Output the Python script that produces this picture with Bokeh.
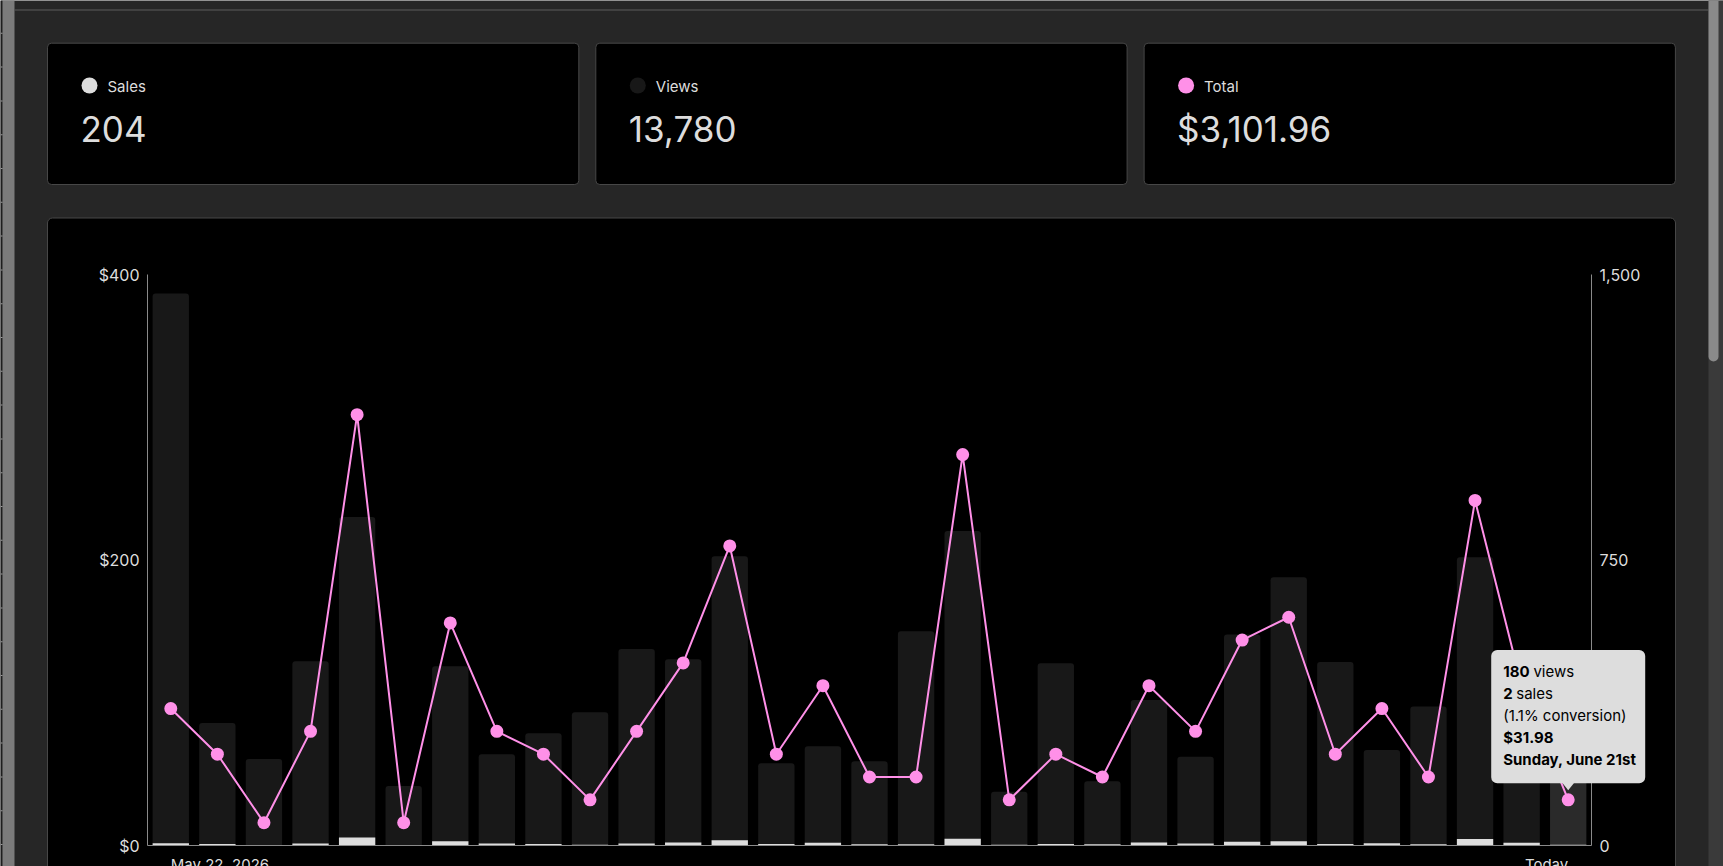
import pandas as pd
from bokeh.plotting import figure
from bokeh.models import (Range1d, LinearAxis, FixedTicker, NumeralTickFormatter,
                          BoxAnnotation, PolyAnnotation, Label, ColumnDataSource)
from bokeh.embed import file_html
from bokeh.resources import INLINE

# ---- daily analytics, May 22 - June 21, 2026 ----
dates = pd.date_range("2026-05-22", "2026-06-21", freq="D")
views = [1450, 322, 227, 484, 863, 156, 471, 240, 295, 350, 516, 489, 760, 216, 261,
         221, 563, 826, 141, 479, 169, 382, 233, 554, 705, 482, 251, 365, 757, 372, 180]
sales = [6, 4, 1, 5, 21, 1, 11, 5, 4, 2, 5, 8, 14, 4, 7, 3, 3, 18, 2, 4, 3, 8, 5, 10,
         11, 4, 6, 3, 17, 7, 2]
revenue = [95.94, 63.96, 15.99, 79.95, 301.82, 15.99, 155.91, 79.95, 63.96, 31.98,
           79.95, 127.92, 209.87, 63.96, 111.93, 47.97, 47.97, 273.82, 31.98, 63.96,
           47.97, 111.93, 79.95, 143.91, 159.90, 63.96, 95.94, 47.97, 241.74, 111.93, 31.98]
x_labels = ["May 22, 2026", "Today"]
revenue_ticks = [0, 200, 400]
views_ticks = [0, 750, 1500]
hover_index = 30

# ---- colours ----
PAGE_BG = "#262626"
PANEL_BG = "#000000"
EDGE = "#474747"
TEXT = "#dddddd"
AXIS = "#8a8a8a"
VIEWS_C = "#181818"
VIEWS_HOVER_C = "#2a2a2a"
SALES_C = "#dddddd"
TOTAL_C = "#ff90e8"
FONT = "Inter"

# ---- page geometry (canvas pixels, top-left origin) ----
W, H = 1723, 866
PLOT_L, PLOT_R, PLOT_T, PLOT_B = 147, 1591, 274, 845
REV_MAX, VIEWS_MAX = 400, 1500

n = len(views)
band = (PLOT_R - PLOT_L) / n
px_per_dollar = (PLOT_B - PLOT_T) / REV_MAX
views_per_dollar = VIEWS_MAX / REV_MAX

xs = list(range(n))
bar_colors = [VIEWS_HOVER_C if i == hover_index else VIEWS_C for i in xs]
src = ColumnDataSource(dict(x=xs, views=views, sales=sales, revenue=revenue,
                            color=bar_colors))

# the frame spans the whole page; the axes sit at fixed positions inside it
x_rng = Range1d(-0.5 - PLOT_L / band, n - 0.5 + (W - PLOT_R) / band)
y_lo = -(H - PLOT_B) / px_per_dollar
y_hi = REV_MAX + PLOT_T / px_per_dollar
p = figure(width=W, height=H, output_backend="svg", toolbar_location=None,
           x_range=x_rng, y_range=Range1d(y_lo, y_hi),
           min_border=0, min_border_left=0, min_border_right=0,
           min_border_top=0, min_border_bottom=0,
           background_fill_color=PAGE_BG, border_fill_color=PAGE_BG,
           outline_line_color=None)
p.extra_y_ranges = {"views": Range1d(y_lo * views_per_dollar, y_hi * views_per_dollar)}
p.xgrid.visible = False
p.ygrid.visible = False


def cbox(x0, y0, x1, y1, color, line=None, radius=0, level="underlay"):
    return BoxAnnotation(left=x0, right=x1, top=y0, bottom=y1,
                         left_units="canvas", right_units="canvas",
                         top_units="canvas", bottom_units="canvas",
                         fill_color=color, fill_alpha=1.0,
                         line_color=line, line_alpha=1.0 if line else 0.0,
                         line_width=1, border_radius=radius, level=level)


def text_at(x, baseline, text, size, color=TEXT, style="normal", align="left",
            x_units="canvas", level="annotation"):
    # alphabetic baseline given in canvas pixels
    return Label(x=x, y=baseline - 0.4 * size, x_units=x_units, y_units="canvas",
                 text=text, text_color=color, text_font=FONT,
                 text_font_size=f"{size}px", text_font_style=style,
                 text_align=align, text_baseline="alphabetic", level=level)


# ---- page chrome ----
p.add_layout(cbox(0, 0, 2, H, "#1e1e1e"))
p.add_layout(cbox(2, 0, 14, H, "#7b7b7b"))
k = 0
while 32.3 + k * 33.8 < H:
    y = 32.3 + k * 33.8
    p.add_layout(cbox(0, y, 2, y + 1, "#9a9a9a"))
    k += 1
p.add_layout(cbox(14, 9, 1708, 10, "#5c5c5c"))
p.add_layout(cbox(1708, 0, W, H, "#3a3a3a"))
p.add_layout(cbox(1708, -10, 1718, 361, "#8a8a8a", radius=5))

# ---- summary cards ----
CARD_X0, CARD_W, CARD_GAP = 47, 531.3, 17
CARD_TOP, CARD_BOTTOM = 42.7, 184
cards = [("Sales", SALES_C, f"{sum(sales):,}"),
         ("Views", VIEWS_C, f"{sum(views):,}"),
         ("Total", TOTAL_C, f"${sum(revenue):,.2f}")]
for i, (name, color, total) in enumerate(cards):
    left = CARD_X0 + i * (CARD_W + CARD_GAP)
    p.add_layout(cbox(left, CARD_TOP, left + CARD_W, CARD_BOTTOM, PANEL_BG,
                      line=EDGE, radius=4))
    p.add_layout(cbox(left + 34, 77, left + 50, 93, color, radius=8))
    p.add_layout(text_at(left + 60, 91.5, name, 15))
    p.add_layout(text_at(left + 33, 142.5, total, 35))

# ---- chart panel ----
p.add_layout(cbox(47, 217.5, 1675, H + 20, PANEL_BG, line=EDGE, radius=5))

# ---- views bars with sales bars (both on the views scale) ----
p.vbar(x="x", top="views", bottom=0, width=0.78, source=src, y_range_name="views",
       fill_color="color", line_color=None, border_radius=(3, 3, 0, 0))
p.vbar(x="x", top="sales", bottom=0, width=0.78, source=src, y_range_name="views",
       fill_color=SALES_C, line_color=None)

# ---- revenue line ----
p.line(x="x", y="revenue", source=src, line_color=TOTAL_C, line_width=2)
p.scatter(x="x", y="revenue", source=src, size=13, fill_color=TOTAL_C,
          line_color=None)

# ---- axes ----
left_ax = p.yaxis[0]
left_ax.ticker = FixedTicker(ticks=revenue_ticks)
left_ax.formatter = NumeralTickFormatter(format="$0,0")
left_ax.fixed_location = -0.5
left_ax.bounds = (0, REV_MAX)
right_ax = LinearAxis(y_range_name="views", ticker=FixedTicker(ticks=views_ticks),
                      formatter=NumeralTickFormatter(format="0,0"),
                      fixed_location=n - 0.5, bounds=(0, VIEWS_MAX))
p.add_layout(right_ax, "right")
for ax in (left_ax, right_ax):
    ax.axis_line_color = AXIS
    ax.axis_line_width = 1
    ax.major_tick_line_color = None
    ax.minor_tick_line_color = None
    ax.major_tick_out = 0
    ax.minor_tick_out = 0
    ax.major_label_text_color = TEXT
    ax.major_label_text_font = FONT
    ax.major_label_text_font_size = "16px"
    ax.major_label_standoff = 8
xax = p.xaxis[0]
xax.ticker = FixedTicker(ticks=[])
xax.fixed_location = 0
xax.bounds = (-0.5, n - 0.5)
xax.axis_line_color = AXIS
xax.major_tick_line_color = None
xax.minor_tick_line_color = None
xax.major_tick_out = 0
xax.minor_tick_out = 0
xax.major_label_text_font_size = "0px"

# first / last date labels under the axis
p.add_layout(text_at(0, 870, x_labels[0], 15, x_units="data"))
p.add_layout(text_at(n - 1, 870, x_labels[1], 15, align="right", x_units="data"))


# ---- hover tooltip for the highlighted day ----
def to_canvas(xi, yv):
    return PLOT_L + (xi + 0.5) * band, PLOT_B - yv * px_per_dollar


def ordinal(d):
    if 10 <= d % 100 <= 20:
        return f"{d}th"
    return f"{d}{ {1: 'st', 2: 'nd', 3: 'rd'}.get(d % 10, 'th') }"


ax_c, ay_c = to_canvas(hover_index, revenue[hover_index])
tip_bottom = ay_c - 16.5
tip_top = tip_bottom - 133.3
tip_left, tip_right = ax_c - 77, ax_c + 77
p.add_layout(cbox(tip_left, tip_top, tip_right, tip_bottom, "#dddddd", radius=6,
                  level="overlay"))
p.add_layout(PolyAnnotation(xs=[ax_c - 6, ax_c + 6, ax_c],
                            ys=[tip_bottom - 0.5, tip_bottom - 0.5, tip_bottom + 7],
                            xs_units="canvas", ys_units="canvas",
                            fill_color="#dddddd", fill_alpha=1.0, line_alpha=0.0,
                            level="overlay"))

d = dates[hover_index]
v, s, r = views[hover_index], sales[hover_index], revenue[hover_index]
lines = [
    [(f"{v}", "bold"), ("views", "normal")],
    [(f"{s}", "bold"), ("sales", "normal")],
    [(f"({s / v * 100:.1f}% conversion)", "normal")],
    [(f"${r:.2f}", "bold")],
    [(f"{d.strftime('%A, %B')} {ordinal(d.day)}", "bold")],
]
DIGIT_W, SPACE_W = 8.6, 4.4
for li, parts in enumerate(lines):
    tx = tip_left + 12
    ty = tip_top + 27.3 + li * 22.1
    for text, style in parts:
        p.add_layout(text_at(tx, ty, text, 15, color="#000000", style=style,
                             level="overlay"))
        tx += len(text) * DIGIT_W + SPACE_W

open("out.html", "w").write(file_html(p, INLINE))
